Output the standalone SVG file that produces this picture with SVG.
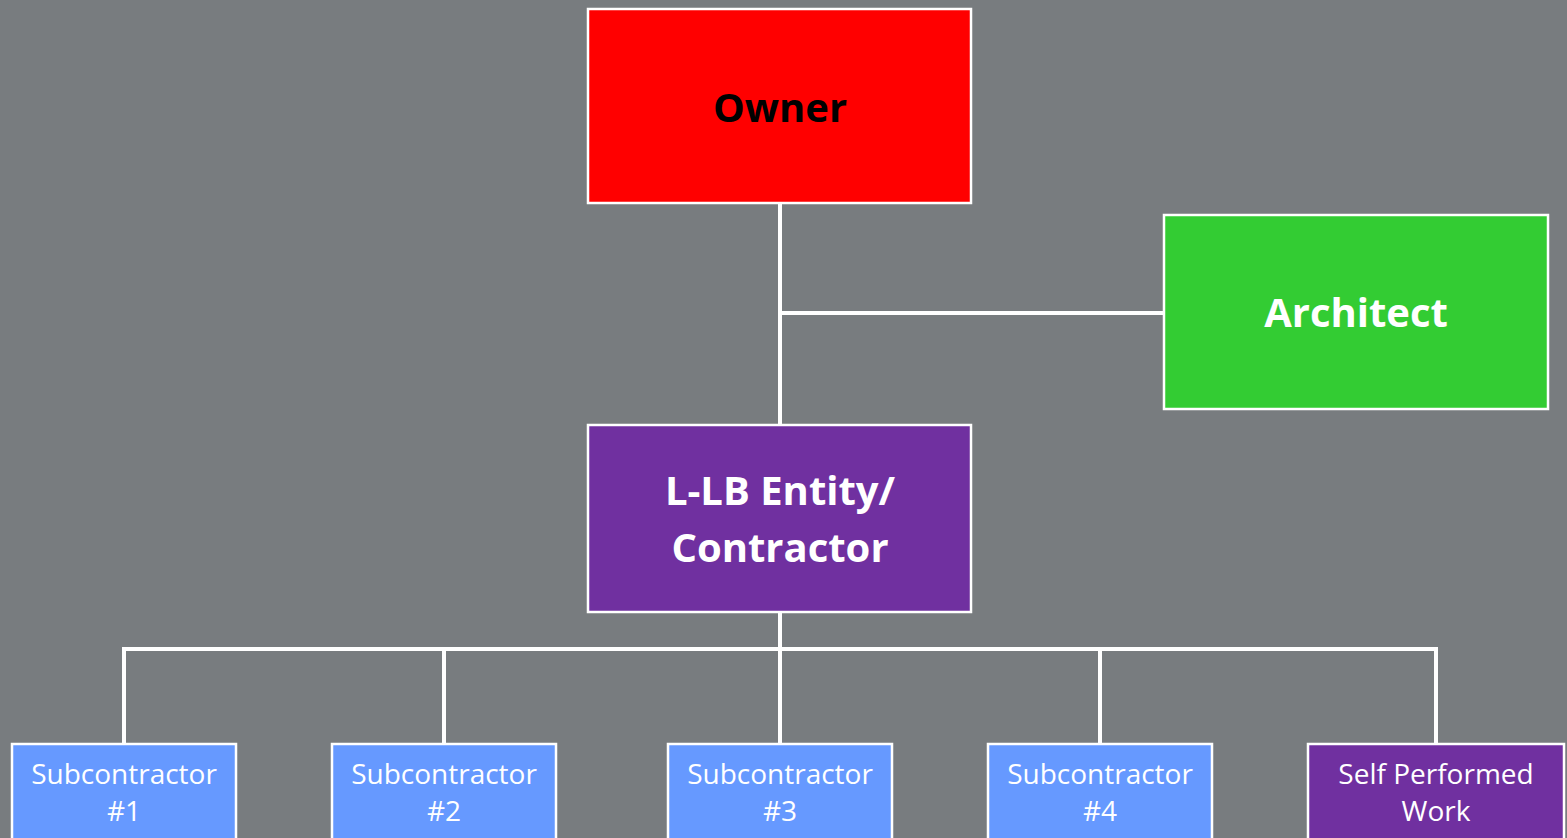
<svg xmlns="http://www.w3.org/2000/svg" width="1567" height="838" viewBox="0 0 1567 838">
<style>
.box{stroke:#FFFFFF;stroke-width:2.5}
.big{font-family:"Open Sans","Liberation Sans",sans-serif;font-weight:bold;font-size:40px;text-anchor:middle}
.small{font-family:"Open Sans","Liberation Sans",sans-serif;font-size:28px;fill:#FFFFFF;text-anchor:middle}
.conn{stroke:#FFFFFF;stroke-width:4;fill:none}
</style>
<rect width="1567" height="838" fill="#787C7F"/>
<g id="connectors">
<path class="conn" d="M780 203 V425"/>
<path class="conn" d="M780 313 H1164"/>
<path class="conn" d="M780 612 V649"/>
<path class="conn" d="M122 649 H1438"/>
<path class="conn" d="M124 647 V744"/>
<path class="conn" d="M444 649 V744"/>
<path class="conn" d="M780 649 V744"/>
<path class="conn" d="M1100 649 V744"/>
<path class="conn" d="M1436 647 V744"/>
</g>
<g id="owner">
<rect class="box" x="588" y="9" width="383" height="194" fill="#FF0000"/>
<text class="big" x="780" y="122" fill="#000000">Owner</text>
</g>
<g id="architect">
<rect class="box" x="1164" y="215" width="384" height="194" fill="#33CC33"/>
<text class="big" x="1356" y="327" fill="#FFFFFF">Architect</text>
</g>
<g id="contractor">
<rect class="box" x="588" y="425" width="383" height="187" fill="#7030A0"/>
<text class="big" x="780" y="505" fill="#FFFFFF">L-LB Entity/</text>
<text class="big" x="780" y="562" fill="#FFFFFF">Contractor</text>
</g>
<g id="sub1">
<rect class="box" x="12" y="744" width="224" height="120" fill="#6699FF"/>
<text class="small" x="124" y="784">Subcontractor</text>
<text class="small" x="124" y="821">#1</text>
</g>
<g id="sub2">
<rect class="box" x="332" y="744" width="224" height="120" fill="#6699FF"/>
<text class="small" x="444" y="784">Subcontractor</text>
<text class="small" x="444" y="821">#2</text>
</g>
<g id="sub3">
<rect class="box" x="668" y="744" width="224" height="120" fill="#6699FF"/>
<text class="small" x="780" y="784">Subcontractor</text>
<text class="small" x="780" y="821">#3</text>
</g>
<g id="sub4">
<rect class="box" x="988" y="744" width="224" height="120" fill="#6699FF"/>
<text class="small" x="1100" y="784">Subcontractor</text>
<text class="small" x="1100" y="821">#4</text>
</g>
<g id="self">
<rect class="box" x="1308" y="744" width="256" height="120" fill="#7030A0"/>
<text class="small" x="1436" y="784">Self Performed</text>
<text class="small" x="1436" y="821">Work</text>
</g>
</svg>
